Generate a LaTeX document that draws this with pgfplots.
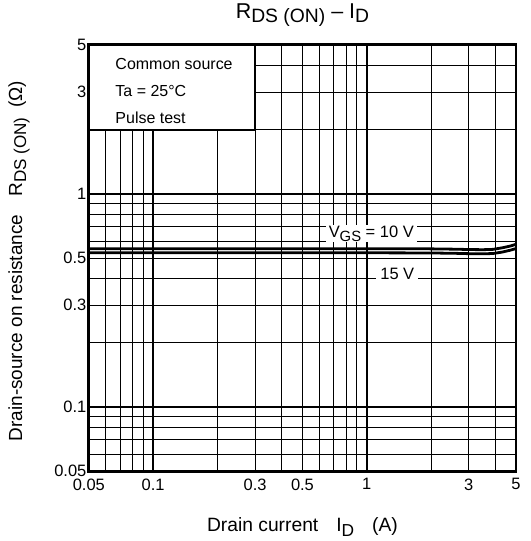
\documentclass[border=0pt]{standalone}
\usepackage{fontspec}
\setmainfont{Liberation Sans}
\usepackage{pgfplots}
\pgfplotsset{compat=1.18}
\newcommand{\fs}[1]{\fontsize{#1}{#1}\selectfont}
\newcommand{\sub}[1]{\raisebox{-0.4ex}{\scalebox{0.9}{#1}}}
\begin{document}
\begin{tikzpicture}
\begin{axis}[
  xmode=log, ymode=log,
  scale only axis, width=428bp, height=427bp,
  xmin=0.05, xmax=5, ymin=0.05, ymax=5,
  xtick={0.05,0.06,0.07,0.08,0.09,0.2,0.3,0.4,0.5,0.6,0.7,0.8,0.9,2,3,4,5},
  xticklabels={0.05,,,,,,0.3,,0.5,,,,,,3,,5},
  ytick={0.05,0.06,0.07,0.08,0.09,0.2,0.3,0.4,0.5,0.6,0.7,0.8,0.9,2,3,4,5},
  yticklabels={0.05,,,,,,0.3,,0.5,,,,,,3,,5},
  extra x ticks={0.1,1}, extra x tick labels={0.1,1},
  extra y ticks={0.1,1}, extra y tick labels={0.1,1},
  extra tick style={grid=major, major grid style={black, line width=2bp}, major tick length=0pt},
  grid=major, major grid style={black, line width=1bp},
  major tick length=0pt, minor tick length=0pt,
  axis line style={line width=2.8bp},
  tick label style={font=\fs{16.5bp}},
  xticklabel style={yshift=-4bp},
  yticklabel style={xshift=1bp},
  /pgf/number format/assume math mode=true,
  xlabel={\fs{19.3bp}Drain current\hspace{18bp}I\sub{D}\hspace{18bp}(A)},
  xlabel style={at={(rel axis cs:0.5,0)}, anchor=center, yshift=-56bp},
  ylabel={\fs{19bp}Drain-source on resistance\hspace{18bp}R\sub{DS (ON)}\hspace{10bp}(Ω)},
  ylabel style={at={(rel axis cs:0,0.493)}, anchor=center, yshift=70bp},
  title={\fs{21.5bp}R\sub{DS (ON)} – I\sub{D}},
  title style={at={(rel axis cs:0.5,1)}, anchor=center, yshift=24bp},
]
\addplot[black, line width=2.8bp] coordinates {
(0.05,0.553) (0.1,0.553) (0.3,0.553) (1,0.553) (2,0.552) (2.6,0.550) (3,0.548) (3.5,0.547) (3.9,0.549) (4.3,0.558) (4.7,0.569) (5,0.580)};
\addplot[black, line width=2.8bp] coordinates {
(0.05,0.529) (0.1,0.529) (0.3,0.529) (1,0.529) (2,0.528) (2.6,0.526) (3,0.524) (3.5,0.523) (3.9,0.525) (4.3,0.533) (4.7,0.544) (5,0.554)};
\draw[line width=2bp, fill=white] (axis cs:0.05,2) rectangle (axis cs:0.3,5);
\node[anchor=west, inner sep=0pt, font=\fs{16bp}] at (axis cs:0.0665,4.07) {Common source};
\node[anchor=west, inner sep=0pt, font=\fs{16bp}] at (axis cs:0.0665,3.05) {Ta = 25°C};
\node[anchor=west, inner sep=0pt, font=\fs{16bp}] at (axis cs:0.0665,2.28) {Pulse test};
\node[fill=white, inner xsep=3bp, inner ysep=1bp, font=\fs{16.5bp}] at (axis cs:1.05,0.65) {V\sub{GS} = 10 V};
\node[fill=white, inner xsep=4bp, inner ysep=2bp, font=\fs{16.5bp}] at (axis cs:1.39,0.42) {15 V};
\end{axis}
\path ([shift={(-89bp,-70bp)}]current axis.south west) rectangle ([shift={(14bp,44bp)}]current axis.north east);
\end{tikzpicture}
\end{document}
